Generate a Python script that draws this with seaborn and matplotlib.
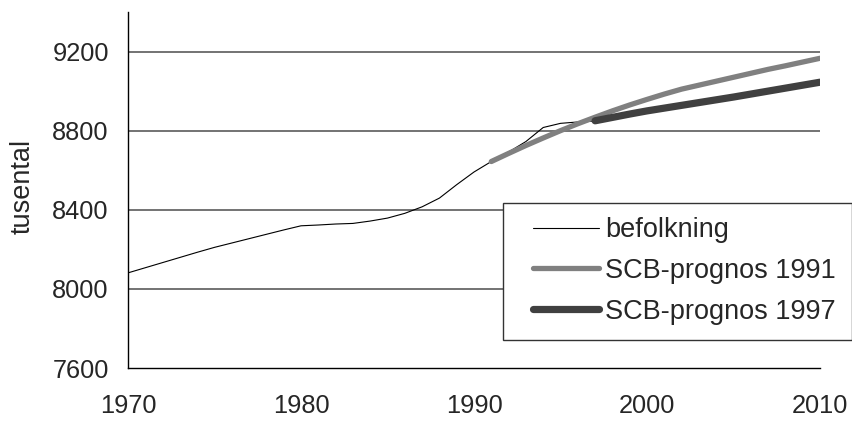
import matplotlib
matplotlib.use("Agg")
import matplotlib.pyplot as plt
import seaborn as sns
import pandas as pd
from matplotlib.ticker import MultipleLocator
from matplotlib.patches import Rectangle

years_pop = list(range(1970, 1998))
befolkning = [8081, 8107, 8133, 8159, 8185, 8210, 8232, 8254, 8276, 8298,
              8319, 8323, 8328, 8331, 8343, 8358, 8382, 8415, 8459, 8527,
              8591, 8644, 8692, 8745, 8816, 8837, 8844, 8848]

years_p91 = list(range(1991, 2011))
prognos_1991 = [8644, 8685, 8725, 8763, 8800, 8835, 8868, 8900, 8930, 8958,
                8985, 9010, 9030, 9050, 9070, 9090, 9110, 9128, 9147, 9166]

years_p97 = list(range(1997, 2011))
prognos_1997 = [8850, 8867, 8884, 8900, 8914, 8928, 8942, 8956, 8970, 8985,
                9000, 9015, 9030, 9045]

labels = ["befolkning", "SCB-prognos 1991", "SCB-prognos 1997"]
y_ticks = [7600, 8000, 8400, 8800, 9200]
x_ticks = [1970, 1980, 1990, 2000, 2010]

sns.set_style("white")
plt.rcParams['font.family'] = ['Liberation Sans', 'DejaVu Sans']

df = pd.concat([
    pd.DataFrame({"year": years_pop, "value": befolkning, "serie": labels[0]}),
    pd.DataFrame({"year": years_p91, "value": prognos_1991, "serie": labels[1]}),
    pd.DataFrame({"year": years_p97, "value": prognos_1997, "serie": labels[2]}),
])

W, H = 853, 423
fig = plt.figure(figsize=(W / 100, H / 100), dpi=100)
ax = fig.add_axes([128 / W, 1 - 368 / H, (820 - 128) / W, (368 - 12) / H])

styles = {labels[0]: dict(color="black", lw=0.8),
          labels[1]: dict(color="#808080", lw=3.8),
          labels[2]: dict(color="#404040", lw=5.2)}
for lab in labels:
    sub = df[df.serie == lab]
    sns.lineplot(data=sub, x="year", y="value", ax=ax, label=lab,
                 solid_capstyle="round", **styles[lab])

ax.set_xlim(1970, 2010)
ax.set_ylim(7600, 9400)
ax.set_yticks(y_ticks)
ax.set_xticks(x_ticks)
ax.xaxis.set_minor_locator(MultipleLocator(5))
for yv in y_ticks[1:]:
    ax.axhline(yv, color="#4d4d4d", lw=1.1, zorder=0)

for s in ["top", "right"]:
    ax.spines[s].set_visible(False)
for s in ["left", "bottom"]:
    ax.spines[s].set_color("black")
    ax.spines[s].set_linewidth(1.0)

ax.tick_params(axis="both", which="both", direction="out", length=5.8,
               width=1.0, color="#555555", labelsize=18.3)
ax.tick_params(axis="x", which="major", pad=13)
ax.tick_params(axis="y", which="major", pad=8)
ax.set_xlabel("")
ax.set_ylabel("tusental", fontsize=19.5)
ax.yaxis.set_label_coords((36 - 128) / 692, (368 - 186) / 356)

# legend frame (Excel-style box)
frame = Rectangle((503 / W, 1 - 340 / H), (852 - 503) / W, (340 - 203) / H,
                  transform=fig.transFigure, facecolor="white",
                  edgecolor="#333333", lw=1.0, zorder=6, clip_on=False)
ax.add_patch(frame)

leg = ax.legend(loc="upper left", bbox_to_anchor=(533 / W, 1 - 217 / H),
                bbox_transform=fig.transFigure, fontsize=19.5, frameon=False,
                handlelength=2.45, handletextpad=0.2, labelspacing=0.55,
                borderpad=0, borderaxespad=0)
leg.set_zorder(10)

fig.savefig("out.png", dpi=100)
